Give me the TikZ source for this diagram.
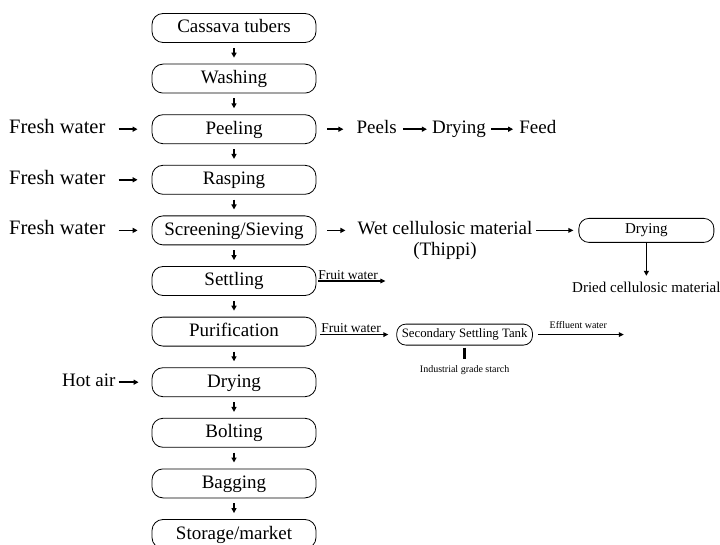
\documentclass[tikz,border=0pt]{standalone}
\usepackage{fontspec}
\setmainfont{Liberation Serif}
\usetikzlibrary{arrows.meta, positioning}

\begin{document}
\begin{tikzpicture}[
			x=1pt, y=1pt,
			node distance=20.8pt,
			% Styles des etapes
			etape/.style={draw=black, rounded corners=11pt, line width=0.8pt, minimum width=164pt, minimum height=29pt, inner sep=0pt, text height=13pt, text depth=3pt, font=\fontsize{19}{22}\selectfont},
			petiteEtape/.style={draw=black, rounded corners=10pt, line width=0.8pt, minimum width=135pt, minimum height=24pt, inner sep=0pt, font=\fontsize{15}{18}\selectfont},
			cuve/.style={draw=black, rounded corners=9pt, line width=0.8pt, minimum height=21pt, inner xsep=5pt, inner ysep=0pt, font=\fontsize{12.8}{15}\selectfont},
			texte/.style={inner sep=0pt, text height=13pt, text depth=4pt, font=\fontsize{19}{22}\selectfont},
			texteMoyen/.style={inner sep=0pt, text height=10.5pt, text depth=3pt, font=\fontsize{15}{18}\selectfont},
			etiquette/.style={inner sep=1pt, font=\fontsize{13.5}{16}\selectfont},
			minuscule/.style={inner sep=0pt, text height=7pt, text depth=2pt, font=\fontsize{10}{12}\selectfont},
			fleche/.style={-{Triangle[length=5pt, width=5pt]}, line width=1.5pt},
			flecheLongue/.style={-{Triangle[length=5pt, width=4.5pt]}, line width=1.7pt},
			]

			\useasboundingbox (0,0) rectangle (720,-545);

			% Colonne principale
			\node[etape] (tuber) at (234,-28) {Cassava tubers};
			\node[etape, below=of tuber] (wash) {Washing};
			\node[etape, below=of wash] (peel) {Peeling};
			\node[etape, below=of peel] (rasp) {Rasping};
			\node[etape, below=of rasp] (screen) {Screening/Sieving};
			\node[etape, below=of screen] (settle) {Settling};
			\node[etape, below=of settle] (purif) {Purification};
			\node[etape, below=of purif] (dry) {Drying};
			\node[etape, below=of dry] (bolt) {Bolting};
			\node[etape, below=of bolt] (bag) {Bagging};
			\node[etape, below=of bag] (store) {Storage/market};

			\foreach \a/\b in {tuber/wash, wash/peel, peel/rasp, rasp/screen, screen/settle, settle/purif, purif/dry, dry/bolt, bolt/bag, bag/store}
				\draw[fleche, shorten <=5pt, shorten >=6pt] (\a) -- (\b);

			% Entrees a gauche
			\node[texte, left=46pt of peel, font=\fontsize{20.5}{22}\selectfont] (eau1) {Fresh water};
			\node[texte, left=46pt of rasp, font=\fontsize{20.5}{22}\selectfont] (eau2) {Fresh water};
			\node[texte, left=46pt of screen, font=\fontsize{20.5}{22}\selectfont] (eau3) {Fresh water};
			\node[texte, left=36pt of dry] (air) {Hot air};

			\draw[fleche, shorten <=13pt, shorten >=14pt] (eau1) -- (peel);
			\draw[fleche, shorten <=13pt, shorten >=14pt] (eau2) -- (rasp);
			\draw[fleche, shorten <=13pt, shorten >=14pt] (eau3) -- (screen);
			\draw[fleche, shorten <=3pt, shorten >=13pt] (air) -- (dry);

			% Pelures
			\node[texte, right=40pt of peel] (peels) {Peels};
			\node[texte, right=35pt of peels] (sech1) {Drying};
			\node[texte, right=33pt of sech1] (feed) {Feed};

			\draw[fleche, shorten <=11pt, shorten >=13pt] (peel) -- (peels);
			\draw[fleche, shorten <=6pt, shorten >=5pt] (peels) -- (sech1);
			\draw[fleche, shorten <=5pt, shorten >=6pt] (sech1) -- (feed);

			% Matiere cellulosique
			\node[texte, right=41pt of screen] (cellu) {Wet cellulosic material};
			\node[texte, below=3pt of cellu] (thippi) {(Thippi)};
			\node[petiteEtape, right=46pt of cellu] (sech2) {Drying};
			\node[texteMoyen, below=39pt of sech2] (dried) {Dried cellulosic material};

			\draw[fleche, shorten <=11pt, shorten >=12pt] (screen) -- (cellu);
			\draw[flecheLongue, shorten <=4pt, shorten >=5pt] (cellu) -- (sech2);
			\draw[fleche, shorten >=6pt] (sech2) -- (dried);

			% Eaux de fruit
			\coordinate[right=69pt of settle] (fin1);
			\draw[flecheLongue, shorten <=2pt] (settle) -- node[etiquette, pos=0, anchor=south west] (fruit1) {Fruit water} (fin1);

			\node[cuve, right=80pt of purif, yshift=-3pt] (tank) {Secondary Settling Tank};
			\draw[flecheLongue, shorten <=4pt, shorten >=8pt] (purif.east |- tank.west) -- node[etiquette, pos=0, anchor=south west, xshift=3pt] (fruit2) {Fruit water} (tank.west);

			\coordinate[right=91pt of tank] (fin2);
			\draw[flecheLongue, shorten <=5pt] (tank) -- node[minuscule, above=3pt] (eff) {Effluent water} (fin2);

			\node[minuscule, below=19.5pt of tank] (indus) {Industrial grade starch};
			\draw[line width=2.5pt, shorten <=2pt, shorten >=6.5pt] (tank) -- (indus);

\end{tikzpicture}
\end{document}
